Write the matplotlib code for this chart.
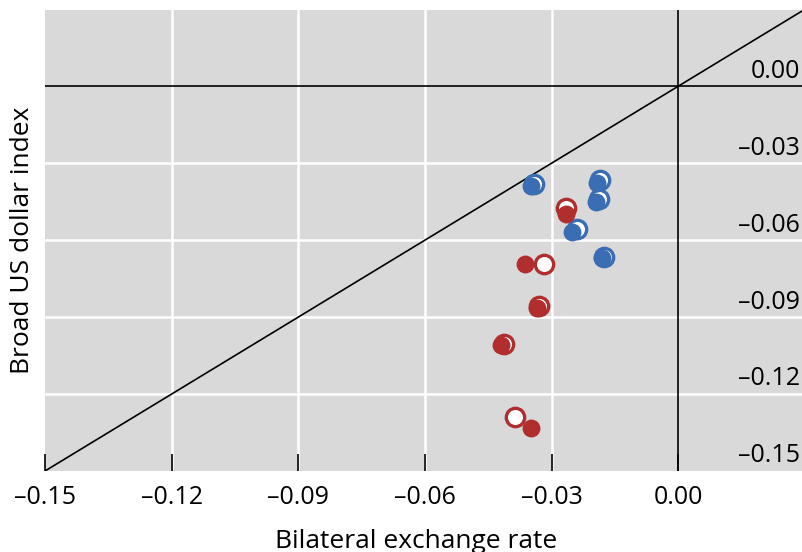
import matplotlib
matplotlib.use("Agg")
import matplotlib.pyplot as plt
import matplotlib.transforms as mtransforms
import numpy as np

plt.rcParams["font.family"] = ["Open Sans", "DejaVu Sans"]

# bilateral exchange rate (x) vs broad US dollar index (y)
blue_filled_x = [-0.0348, -0.0192, -0.0196, -0.0251, -0.0180]
blue_filled_y = [-0.0391, -0.0379, -0.0453, -0.0570, -0.0668]
blue_open_x = [-0.0341, -0.0185, -0.0189, -0.0239, -0.0175]
blue_open_y = [-0.0383, -0.0367, -0.0441, -0.0555, -0.0664]

red_filled_x = [-0.0265, -0.0364, -0.0334, -0.0419, -0.0350]
red_filled_y = [-0.0500, -0.0695, -0.0863, -0.1008, -0.1332]
red_open_x = [-0.0265, -0.0319, -0.0329, -0.0414, -0.0386]
red_open_y = [-0.0473, -0.0695, -0.0855, -0.1004, -0.1289]

ticks = [-0.15, -0.12, -0.09, -0.06, -0.03, 0.00]

BLUE = "#3a6db3"
RED = "#b02e2e"
BG = "#d9d9d9"


def fmt(v):
    s = f"{abs(v):.2f}"
    return "\u2013" + s if v < 0 else s


fig = plt.figure(figsize=(8.02, 5.52), dpi=100)
ax = fig.add_axes([45 / 802, 81 / 552, 757 / 802, 461 / 552])
ax.set_facecolor(BG)
ax.set_xlim(-0.15, 0.0293)
ax.set_ylim(-0.15, 0.0297)

for t in ticks[1:-1]:
    ax.axvline(t, color="white", lw=1.8, zorder=1)
    ax.axhline(t, color="white", lw=1.8, zorder=1)
ax.axvline(0, color="black", lw=1.2, zorder=2)
ax.axhline(0, color="black", lw=1.2, zorder=2)
ax.plot([-0.15, 0.04], [-0.15, 0.04], color="black", lw=1.2, zorder=2)

ms = 175
ax.scatter(blue_open_x, blue_open_y, s=ms, facecolor="white", edgecolor=BLUE, linewidth=2.4, zorder=3)
ax.scatter(red_open_x, red_open_y, s=ms, facecolor="white", edgecolor=RED, linewidth=2.4, zorder=3)
ax.scatter(blue_filled_x, blue_filled_y, s=ms * 0.95, color=BLUE, linewidth=0, zorder=4)
ax.scatter(red_filled_x, red_filled_y, s=ms * 0.95, color=RED, linewidth=0, zorder=4)

for s in ax.spines.values():
    s.set_visible(False)

ax.set_xticks(ticks)
ax.set_xticklabels([fmt(t) for t in ticks], fontsize=18)
ax.tick_params(axis="x", direction="in", length=12, width=1.2, color="black", pad=10)
ax.set_yticks([])

trans = mtransforms.blended_transform_factory(ax.transAxes, ax.transData)
for t in ticks:
    ax.text(0.997, t + 0.001, fmt(t), transform=trans, ha="right", va="bottom", fontsize=18)

ax.set_xlabel("Bilateral exchange rate", fontsize=19)
ax.xaxis.set_label_coords(0.49, -0.125)
ax.set_ylabel("Broad US dollar index", fontsize=19)
ax.yaxis.set_label_coords(-0.013, 0.5)

fig.savefig("out.png", dpi=100)
